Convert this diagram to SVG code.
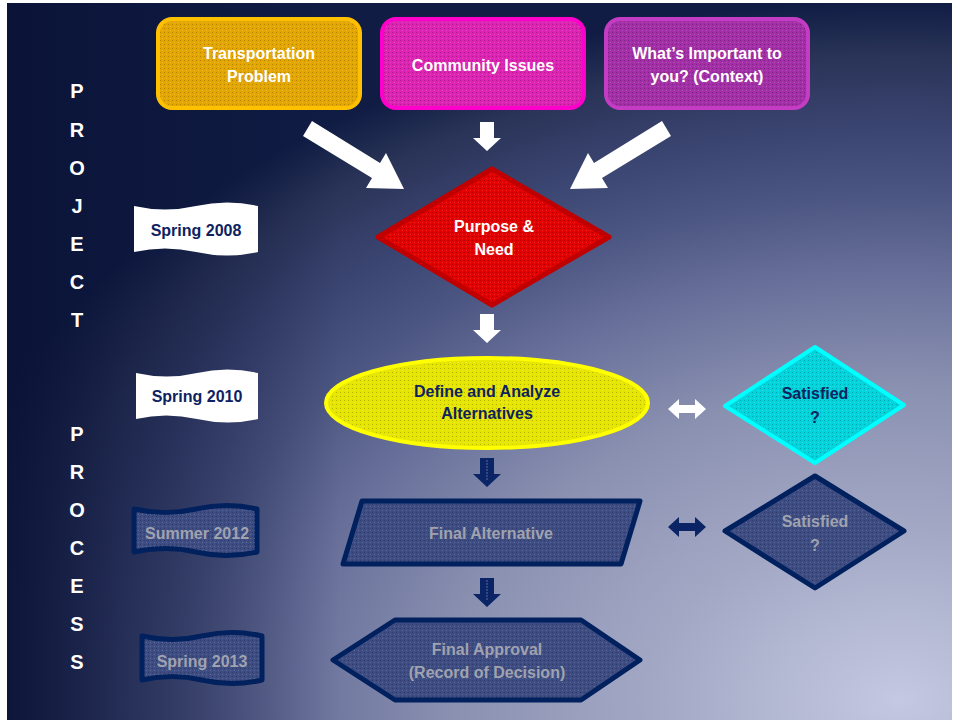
<svg xmlns="http://www.w3.org/2000/svg" width="959" height="723" viewBox="0 0 959 723">
<defs>
<radialGradient id="bg" gradientUnits="userSpaceOnUse" cx="0" cy="0" r="1" gradientTransform="translate(900,700) scale(1000,700)">
<stop offset="0" stop-color="#c4c8e2"/>
<stop offset="0.25" stop-color="#a2a8c4"/>
<stop offset="0.45" stop-color="#8a90b0"/>
<stop offset="0.6" stop-color="#6a729c"/>
<stop offset="0.72" stop-color="#4c5682"/>
<stop offset="0.82" stop-color="#3a4470"/>
<stop offset="0.92" stop-color="#2a3458"/>
<stop offset="1" stop-color="#101c44"/>
</radialGradient>
<linearGradient id="leftshade" gradientUnits="userSpaceOnUse" x1="7" y1="0" x2="340" y2="0">
<stop offset="0" stop-color="#0a1236" stop-opacity="0.9"/>
<stop offset="0.35" stop-color="#0a1236" stop-opacity="0.5"/>
<stop offset="1" stop-color="#0a1236" stop-opacity="0"/>
</linearGradient>
<pattern id="dots" width="4" height="4" patternUnits="userSpaceOnUse">
<rect x="0" y="0" width="1" height="1" fill="#000" fill-opacity="0.22"/>
<rect x="2" y="2" width="1" height="1" fill="#fff" fill-opacity="0.18"/>
</pattern>
<style>
.t{font-family:"Liberation Sans",Arial,sans-serif;font-weight:bold;font-size:16px;text-anchor:middle}
.w{fill:#ffffff}
.n{fill:#0e2260}
.g{fill:#a0a2ae}
.side{font-family:"Liberation Sans",Arial,sans-serif;font-weight:bold;font-size:20px;fill:#ffffff;text-anchor:middle}
.tex{fill:url(#dots)}
.warr{fill:#ffffff}
.narr{fill:#0a2466}
.dark{fill:#3d4d84;stroke:#00205e;stroke-width:5;stroke-linejoin:round}
</style>
</defs>
<rect width="959" height="723" fill="#ffffff"/>
<rect x="7" y="3" width="945" height="717" fill="url(#bg)"/>
<rect x="7" y="3" width="945" height="717" fill="url(#leftshade)"/>

<g id="side-label">
<text class="side" x="77" y="98">P</text>
<text class="side" x="77" y="137">R</text>
<text class="side" x="77" y="175">O</text>
<text class="side" x="77" y="213">J</text>
<text class="side" x="77" y="251">E</text>
<text class="side" x="77" y="289">C</text>
<text class="side" x="77" y="327">T</text>
<text class="side" x="77" y="441">P</text>
<text class="side" x="77" y="479">R</text>
<text class="side" x="77" y="517">O</text>
<text class="side" x="77" y="555">C</text>
<text class="side" x="77" y="593">E</text>
<text class="side" x="77" y="631">S</text>
<text class="side" x="77" y="669">S</text>
</g>

<g id="connectors">
<polygon class="warr" points="303,136 312,121 380,163 386,153 404,189 366,188 372,178"/>
<polygon class="warr" points="480,122 494,122 494,138 501,138 487,151 473,138 480,138"/>
<polygon class="warr" points="671,136 662,121 594,163 588,153 570,189 608,188 602,178"/>
<polygon class="warr" points="480,314 494,314 494,330 501,330 487,343 473,330 480,330"/>
<polygon class="warr" points="668,409 679,399 679,405 695,405 695,399 706,409 695,419 695,413 679,413 679,419"/>
<polygon class="narr" points="480,458 494,458 494,474 501,474 487,487 473,474 480,474"/>
<line x1="487" y1="460" x2="487" y2="480" stroke="#5a6aa0" stroke-width="1" stroke-dasharray="2,1"/>
<polygon class="narr" points="668,527 679,517 679,523 695,523 695,517 706,527 695,537 695,531 679,531 679,537"/>
<polygon class="narr" points="480,578 494,578 494,594 501,594 487,607 473,594 480,594"/>
<line x1="487" y1="580" x2="487" y2="600" stroke="#5a6aa0" stroke-width="1" stroke-dasharray="2,1"/>
</g>

<g id="transportation-problem">
<rect x="158" y="19" width="202" height="89" rx="14" fill="#e4a600" stroke="#ffc000" stroke-width="4"/>
<rect x="160" y="21" width="198" height="85" rx="12" class="tex"/>
<text class="t w" x="259" y="59">Transportation</text>
<text class="t w" x="259" y="82">Problem</text>
</g>

<g id="community-issues">
<rect x="382" y="19" width="202" height="89" rx="14" fill="#de22b4" stroke="#ff00cc" stroke-width="4"/>
<rect x="384" y="21" width="198" height="85" rx="12" class="tex"/>
<text class="t w" x="483" y="71">Community Issues</text>
</g>

<g id="whats-important">
<rect x="606" y="19" width="202" height="89" rx="14" fill="#a42ea8" stroke="#c43cc4" stroke-width="4"/>
<rect x="608" y="21" width="198" height="85" rx="12" class="tex"/>
<text class="t w" x="707" y="59">What’s Important to</text>
<text class="t w" x="707" y="82">you? (Context)</text>
</g>

<g id="purpose-need">
<polygon points="378,237 492,169 609,237 492,305" fill="#e40000" stroke="#c00000" stroke-width="5" stroke-linejoin="round"/>
<polygon points="384,237 492,173 603,237 492,301" class="tex"/>
<text class="t w" x="494" y="232">Purpose &amp;</text>
<text class="t w" x="494" y="255">Need</text>
</g>

<g id="define-analyze">
<ellipse cx="487" cy="403" rx="161" ry="45" fill="#e6e600" stroke="#ffff00" stroke-width="4"/>
<ellipse cx="487" cy="403" rx="158" ry="42" class="tex"/>
<text class="t n" x="487" y="397">Define and Analyze</text>
<text class="t n" x="487" y="419">Alternatives</text>
</g>

<g id="satisfied-1">
<polygon points="725,406 815,347 904,405 815,463" fill="#00d4dc" stroke="#00ffff" stroke-width="4" stroke-linejoin="round"/>
<polygon points="731,406 815,351 898,405 815,459" class="tex"/>
<text class="t n" x="815" y="399">Satisfied</text>
<text class="t n" x="815" y="423">?</text>
</g>

<g id="final-alternative">
<polygon class="dark" points="362,501 640,501 621,564 343,564"/>
<polygon points="365,503 637,503 619,562 346,562" class="tex"/>
<text class="t g" x="491" y="539">Final Alternative</text>
</g>

<g id="satisfied-2">
<polygon class="dark" points="725,531 815,476 904,531 815,588"/>
<polygon points="731,531 815,480 898,531 815,584" class="tex"/>
<text class="t g" x="815" y="527">Satisfied</text>
<text class="t g" x="815" y="551">?</text>
</g>

<g id="final-approval">
<polygon class="dark" points="333,660 395,620 581,620 640,660 581,700 395,700"/>
<polygon points="339,660 396,623 580,623 634,660 580,697 396,697" class="tex"/>
<text class="t g" x="487" y="655">Final Approval</text>
<text class="t g" x="487" y="678">(Record of Decision)</text>
</g>

<g id="spring-2008">
<path d="M134,206 Q165,213 196,206 T258,206 L258,252 Q227,259 196,252 T134,252 Z" fill="#ffffff"/>
<text class="t n" x="196" y="236">Spring 2008</text>
</g>

<g id="spring-2010">
<path d="M136,373 Q167,380 197,373 T258,373 L258,419 Q228,426 197,419 T136,419 Z" fill="#ffffff"/>
<text class="t n" x="197" y="402">Spring 2010</text>
</g>

<g id="summer-2012">
<path class="dark" d="M134,509 Q165,516 196,509 T257,509 L257,552 Q226,559 196,552 T134,552 Z"/>
<path class="tex" d="M136,511 Q165,518 196,511 T255,511 L255,550 Q226,557 196,550 T136,550 Z"/>
<text class="t g" x="197" y="539">Summer 2012</text>
</g>

<g id="spring-2013">
<path class="dark" d="M142,636 Q172,643 202,636 T262,636 L262,680 Q232,687 202,680 T142,680 Z"/>
<path class="tex" d="M144,638 Q172,645 202,638 T260,638 L260,678 Q232,685 202,678 T144,678 Z"/>
<text class="t g" x="202" y="667">Spring 2013</text>
</g>
</svg>
